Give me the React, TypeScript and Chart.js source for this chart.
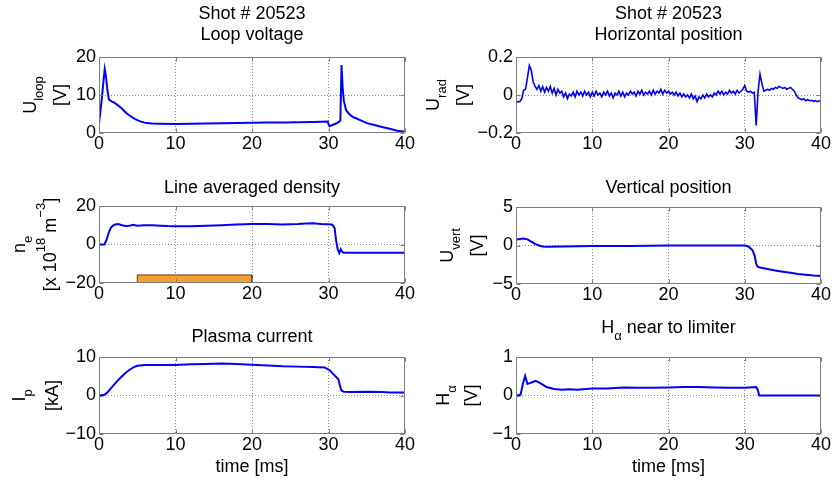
import React, { useEffect, useRef } from 'react';
import { Chart, registerables } from 'chart.js';

Chart.register(...registerables);

// ---------------- data ----------------
const timeTicks = [0, 10, 20, 30, 40];
const shotLabel = 'Shot # 20523';

const loopTime = [0, 0.15, 0.35, 0.6, 0.75, 0.9, 1.1, 1.3, 1.6, 2.0, 2.4, 2.8, 3.2, 3.6, 4.0, 4.5, 5.0, 5.5, 6.2, 7, 8, 10, 12, 14, 16, 18, 20, 22, 24, 26, 28, 29.9, 30.0, 30.15, 30.5, 31.0, 31.4, 31.55, 31.7, 31.85, 32.0, 32.3, 32.7, 33.2, 34, 35, 36, 37, 38, 39, 40];
const loopVoltage = [2.5, 5, 8.7, 14, 16.8, 15, 11.3, 8.8, 8.4, 8.0, 7.4, 6.8, 6.0, 5.2, 4.6, 3.9, 3.4, 3.0, 2.6, 2.5, 2.45, 2.4, 2.45, 2.5, 2.55, 2.6, 2.7, 2.75, 2.75, 2.8, 2.9, 3.0, 2.4, 1.8, 2.1, 2.5, 3.0, 3.3, 17.9, 12, 8.5, 6, 5, 4.2, 3.5, 2.6, 2.1, 1.6, 1.1, 0.6, 0.3];

const radTime = [
  0, 0.25, 0.5, 0.75, 1, 1.25, 1.5, 1.75, 2, 2.25, 2.5, 2.75, 3, 3.25, 3.5, 3.75, 4, 4.25, 4.5, 4.75,
  5, 5.25, 5.5, 5.75, 6, 6.25, 6.5, 6.75, 7, 7.25, 7.5, 7.75, 8, 8.25, 8.5, 8.75, 9, 9.25, 9.5, 9.75,
  10, 10.25, 10.5, 10.75, 11, 11.25, 11.5, 11.75, 12, 12.25, 12.5, 12.75, 13, 13.25, 13.5, 13.75, 14, 14.25, 14.5, 14.75,
  15, 15.25, 15.5, 15.75, 16, 16.25, 16.5, 16.75, 17, 17.25, 17.5, 17.75, 18, 18.25, 18.5, 18.75, 19, 19.25, 19.5, 19.75,
  20, 20.25, 20.5, 20.75, 21, 21.25, 21.5, 21.75, 22, 22.25, 22.5, 22.75, 23, 23.25, 23.5, 23.75, 24, 24.25, 24.5, 24.75,
  25, 25.25, 25.5, 25.75, 26, 26.25, 26.5, 26.75, 27, 27.25, 27.5, 27.75, 28, 28.25, 28.5, 28.75, 29, 29.25, 29.5, 29.75,
  30, 30.25, 30.5, 30.75, 31, 31.25, 31.5, 31.75, 32, 32.25, 32.5, 32.75, 33, 33.25, 33.5, 33.75, 34, 34.25, 34.5, 34.75,
  35, 35.25, 35.5, 35.75, 36, 36.25, 36.5, 36.75, 37, 37.25, 37.5, 37.75, 38, 38.25, 38.5, 38.75, 39, 39.25, 39.5, 39.75,
  40,
];
const radPosition = [
  -0.035, -0.036, -0.034, -0.02, 0.025, 0.03, 0.09, 0.155, 0.13, 0.07, 0.045, 0.03, 0.05, 0.02, 0.045, 0.015, 0.04, 0.02, 0.045, 0.01,
  0.035, 0.0, 0.03, 0.01, 0.02, -0.01, 0.01, -0.02, 0.005, -0.005, 0.015, -0.01, 0.02, 0.0, 0.015, -0.005, 0.02, 0.0, 0.015, -0.01,
  0.015, -0.005, 0.02, 0.0, 0.01, -0.01, 0.015, 0.0, 0.02, -0.005, 0.01, -0.015, 0.01, 0.0, 0.02, -0.005, 0.015, -0.01, 0.01, 0.0,
  0.02, 0.005, 0.015, -0.005, 0.02, 0.005, 0.025, 0.0, 0.015, 0.005, 0.02, 0.0, 0.025, 0.005, 0.02, 0.01, 0.03, 0.005, 0.025, 0.01,
  0.02, 0.005, 0.015, 0.0, 0.015, -0.005, 0.01, -0.01, 0.005, -0.01, 0.0, -0.015, 0.005, -0.02, -0.005, -0.035, -0.01, -0.02, 0.0, -0.015,
  0.005, -0.01, 0.0, -0.01, 0.01, 0.0, 0.02, 0.005, 0.02, 0.0, 0.015, 0.005, 0.025, 0.01, 0.02, 0.005, 0.025, 0.01, 0.02, 0.03,
  0.05, 0.02, 0.015, 0.02, 0.01, 0.015, -0.16, 0.02, 0.11, 0.06, 0.02, 0.025, 0.03, 0.025, 0.035, 0.03, 0.04, 0.035, 0.045, 0.04,
  0.035, 0.04, 0.03, 0.035, 0.04, 0.03, 0.02, 0.0, -0.015, -0.02, -0.025, -0.02, -0.03, -0.025, -0.03, -0.028, -0.033, -0.03, -0.035, -0.032,
  -0.03,
];

const densityTime = [0, 0.7, 1.0, 1.3, 1.6, 2.0, 2.5, 3.0, 3.5, 4.0, 4.5, 5, 6, 7, 8, 9, 10, 12, 14, 16, 18, 20, 22, 24, 26, 27, 28, 29, 30, 30.5, 30.8, 31.0, 31.2, 31.4, 31.6, 31.8, 32.0, 32.5, 34, 36, 38, 40];
const densityValue = [0, 0, 2.5, 6.5, 9.0, 10.3, 10.6, 10.0, 9.6, 9.8, 10.2, 9.8, 10.0, 10.0, 9.8, 9.6, 9.5, 9.5, 9.7, 10.0, 10.4, 10.7, 10.6, 10.4, 10.6, 10.9, 11.0, 10.6, 10.5, 10.3, 8.5, 2, -2.5, -4.5, -2.5, -3.8, -4.3, -4.3, -4.3, -4.3, -4.3, -4.3];

// highlighted time window in the density panel
const windowStart = 5;
const windowEnd = 20;
const windowLow = -20;
const windowHigh = -15.8;

const vertTime = [0, 0.5, 1.0, 1.5, 2.0, 2.5, 3.0, 3.5, 4, 6, 8, 10, 15, 20, 25, 29, 30, 30.5, 31.0, 31.3, 31.5, 31.7, 32.0, 33, 34, 35, 36, 37, 38, 39, 40];
const vertPosition = [0.75, 0.85, 0.9, 0.8, 0.5, 0.2, 0.0, -0.12, -0.15, -0.12, -0.1, -0.08, -0.05, 0.0, 0.0, 0.0, 0.0, -0.15, -0.6, -1.3, -2.4, -2.75, -2.85, -3.05, -3.25, -3.4, -3.55, -3.7, -3.8, -3.9, -3.95];

const currentTime = [0, 0.7, 1.0, 1.5, 2.0, 2.5, 3.0, 3.5, 4.0, 4.5, 5.0, 6, 8, 10, 12, 14, 16, 18, 20, 22, 24, 26, 28, 29.5, 30.2, 30.6, 31.0, 31.3, 31.5, 31.7, 32.0, 33, 35, 37, 38, 40];
const plasmaCurrent = [0, 0.2, 0.6, 1.7, 2.9, 4.0, 5.0, 5.9, 6.7, 7.3, 7.7, 7.9, 7.9, 7.9, 8.1, 8.2, 8.3, 8.2, 8.0, 7.8, 7.6, 7.5, 7.4, 7.3, 6.5, 5.6, 4.8, 4.2, 2.5, 1.3, 1.0, 0.9, 0.95, 0.9, 0.8, 0.75];

const alphaTime = [0, 0.6, 0.9, 1.2, 1.5, 1.8, 2.2, 2.6, 3.0, 3.5, 4.0, 5.0, 6, 7, 8, 10, 12, 14, 16, 18, 20, 22, 24, 26, 28, 30, 31.5, 31.7, 31.9, 33, 35, 37, 40];
const alphaSignal = [0, 0.02, 0.3, 0.51, 0.3, 0.32, 0.35, 0.38, 0.34, 0.28, 0.22, 0.17, 0.15, 0.16, 0.15, 0.18, 0.18, 0.21, 0.2, 0.2, 0.21, 0.22, 0.22, 0.21, 0.2, 0.2, 0.22, 0.15, 0.0, 0.0, 0.0, 0.0, 0.0];

const loopTicks = [0, 10, 20];
const radTicks = [-0.2, 0, 0.2];
const densityTicks = [-20, 0, 20];
const vertTicks = [-5, 0, 5];
const currentTicks = [-10, 0, 10];
const alphaTicks = [-1, 0, 1];

// ---------------- rendering helpers ----------------
type Seg = { t: string; s?: 'sub' | 'sup' };
type Box = { left: number; top: number; right: number; bottom: number };
type PanelDef = {
  time: number[];
  values: number[];
  yTicks: number[];
  title: Seg[][];
  titleBaselines: number[];
  yLabel: Seg[][];
  yLabelBaselines: number[];
  box: Box;
  xTitle?: boolean;
  window?: boolean;
  lineWidth?: number;
};

const W = 834;
const H = 482;
const FONT_FAMILY = '"Liberation Sans", Arial, Helvetica, sans-serif';
const MAIN_PX = 18;
const SMALL_PX = 13;
const SUB_SHIFT = 7;
const SUP_SHIFT = -11;
const Y_AXIS_W = 45;
const X_AXIS_H = 24;
const FRAME = '#7f7f7f';
const GRID = '#8a8a8a';

function setFont(ctx: CanvasRenderingContext2D, small: boolean) {
  ctx.font = `${small ? SMALL_PX : MAIN_PX}px ${FONT_FAMILY}`;
}
function richWidth(ctx: CanvasRenderingContext2D, segs: Seg[]) {
  let w = 0;
  for (const s of segs) {
    setFont(ctx, !!s.s);
    w += ctx.measureText(s.t).width;
  }
  return w;
}
function drawRich(ctx: CanvasRenderingContext2D, segs: Seg[], x: number, y: number, rotated: boolean) {
  ctx.save();
  ctx.translate(x, y);
  if (rotated) ctx.rotate(-Math.PI / 2);
  ctx.textBaseline = 'alphabetic';
  ctx.textAlign = 'left';
  ctx.fillStyle = '#000';
  let cx = -richWidth(ctx, segs) / 2;
  for (const s of segs) {
    setFont(ctx, !!s.s);
    const dy = s.s === 'sub' ? SUB_SHIFT : s.s === 'sup' ? SUP_SHIFT : 0;
    ctx.fillText(s.t, cx, dy);
    cx += ctx.measureText(s.t).width;
  }
  ctx.restore();
}

const fmt = (v: number) => (v < 0 ? '\u2212' + String(Math.abs(v)) : String(v));

const panels: PanelDef[] = [
  {
    time: loopTime, values: loopVoltage, yTicks: loopTicks,
    title: [[{ t: shotLabel }], [{ t: 'Loop voltage' }]], titleBaselines: [19, 40],
    yLabel: [[{ t: 'U' }, { t: 'loop', s: 'sub' }], [{ t: '[V]' }]], yLabelBaselines: [36, 66],
    box: { left: 99, top: 57, right: 405, bottom: 133 },
  },
  {
    time: radTime, values: radPosition, yTicks: radTicks, lineWidth: 1.6,
    title: [[{ t: shotLabel }], [{ t: 'Horizontal position' }]], titleBaselines: [19, 40],
    yLabel: [[{ t: 'U' }, { t: 'rad', s: 'sub' }], [{ t: '[V]' }]], yLabelBaselines: [439, 469],
    box: { left: 516, top: 57, right: 821, bottom: 133 },
  },
  {
    time: densityTime, values: densityValue, yTicks: densityTicks, window: true,
    title: [[{ t: 'Line averaged density' }]], titleBaselines: [193],
    yLabel: [
      [{ t: 'n' }, { t: 'e', s: 'sub' }],
      [{ t: '[x 10' }, { t: '18', s: 'sup' }, { t: ' m' }, { t: '\u22123', s: 'sup' }, { t: ']' }],
    ],
    yLabelBaselines: [25, 56],
    box: { left: 99, top: 206, right: 405, bottom: 283 },
  },
  {
    time: vertTime, values: vertPosition, yTicks: vertTicks,
    title: [[{ t: 'Vertical position' }]], titleBaselines: [193],
    yLabel: [[{ t: 'U' }, { t: 'vert', s: 'sub' }], [{ t: '[V]' }]], yLabelBaselines: [453, 483],
    box: { left: 516, top: 207, right: 821, bottom: 284 },
  },
  {
    time: currentTime, values: plasmaCurrent, yTicks: currentTicks, xTitle: true,
    title: [[{ t: 'Plasma current' }]], titleBaselines: [342],
    yLabel: [[{ t: 'I' }, { t: 'p', s: 'sub' }], [{ t: '[kA]' }]], yLabelBaselines: [25, 58],
    box: { left: 99, top: 357, right: 405, bottom: 434 },
  },
  {
    time: alphaTime, values: alphaSignal, yTicks: alphaTicks, xTitle: true,
    title: [[{ t: 'H' }, { t: '\u03b1', s: 'sub' }, { t: ' near to limiter' }]], titleBaselines: [333],
    yLabel: [[{ t: 'H' }, { t: '\u03b1', s: 'sub' }], [{ t: '[V]' }]], yLabelBaselines: [449, 477],
    box: { left: 516, top: 357, right: 821, bottom: 434 },
  },
];

function buildConfig(p: PanelDef): any {
  const yMin = p.yTicks[0];
  const yMax = p.yTicks[p.yTicks.length - 1];
  const xMin = timeTicks[0];
  const xMax = timeTicks[timeTicks.length - 1];
  const tickFont = { family: FONT_FAMILY, size: MAIN_PX };

  const datasets: any[] = [];
  if (p.window) {
    datasets.push({
      data: [
        { x: windowStart, y: windowLow },
        { x: windowStart, y: windowHigh },
        { x: windowEnd, y: windowHigh },
        { x: windowEnd, y: windowLow },
      ],
      borderColor: '#5c4020',
      borderWidth: 1,
      backgroundColor: '#F89E2E',
      fill: { value: windowLow },
      pointRadius: 0,
      tension: 0,
    });
  }
  datasets.push({
    data: p.time.map((t, i) => ({ x: t, y: p.values[i] })),
    borderColor: '#0000ff',
    borderWidth: p.lineWidth ?? 2,
    pointRadius: 0,
    tension: 0,
    fill: false,
  });

  const textPlugin = {
    id: 'matlabText',
    afterDraw(chart: any) {
      const ctx: CanvasRenderingContext2D = chart.ctx;
      const a = chart.chartArea;
      const cx = (a.left + a.right) / 2;
      const cy = (a.top + a.bottom) / 2;
      p.title.forEach((line, i) => drawRich(ctx, line, cx, p.titleBaselines[i], false));
      p.yLabel.forEach((line, i) => drawRich(ctx, line, p.yLabelBaselines[i], cy, true));
      if (p.xTitle) drawRich(ctx, [{ t: 'time [ms]' }], cx, a.bottom + 38, false);
    },
  };

  const framePlugin = {
    id: 'matlabFrame',
    afterDatasetsDraw(chart: any) {
      const ctx: CanvasRenderingContext2D = chart.ctx;
      const a = chart.chartArea;
      const sx = chart.scales.x;
      const sy = chart.scales.y;
      const L = Math.round(a.left) + 0.5;
      const R = Math.round(a.right) - 0.5;
      const T = Math.round(a.top) + 0.5;
      const B = Math.round(a.bottom) - 0.5;
      ctx.save();
      ctx.strokeStyle = FRAME;
      ctx.lineWidth = 1;
      ctx.strokeRect(L, T, R - L, B - T);
      ctx.beginPath();
      for (const v of timeTicks) {
        const x = Math.round(sx.getPixelForValue(v)) + 0.5;
        ctx.moveTo(x, B); ctx.lineTo(x, B - 4);
        ctx.moveTo(x, T); ctx.lineTo(x, T + 4);
      }
      for (const v of p.yTicks) {
        const y = Math.round(sy.getPixelForValue(v)) + 0.5;
        ctx.moveTo(L, y); ctx.lineTo(L + 4, y);
        ctx.moveTo(R, y); ctx.lineTo(R - 4, y);
      }
      ctx.stroke();
      ctx.restore();
    },
  };

  return {
    type: 'line',
    data: { datasets },
    options: {
      responsive: false,
      animation: false,
      events: [],
      layout: {
        padding: {
          left: p.box.left - Y_AXIS_W,
          top: p.box.top,
          right: W - p.box.right,
          bottom: H - p.box.bottom - X_AXIS_H,
        },
      },
      plugins: { legend: { display: false }, tooltip: { enabled: false }, title: { display: false } },
      scales: {
        x: {
          type: 'linear',
          min: xMin,
          max: xMax,
          afterBuildTicks: (s: any) => { s.ticks = timeTicks.map((v) => ({ value: v })); },
          afterFit: (s: any) => { s.height = X_AXIS_H; },
          grid: {
            drawTicks: false,
            lineWidth: 1,
            color: (c: any) => (c.tick && c.tick.value > xMin && c.tick.value < xMax ? GRID : 'rgba(0,0,0,0)'),
          },
          border: { display: false, dash: [1, 2] },
          ticks: { font: tickFont, color: '#000', padding: 0, maxRotation: 0, autoSkip: false, callback: (v: number) => fmt(v) },
        },
        y: {
          type: 'linear',
          min: yMin,
          max: yMax,
          afterBuildTicks: (s: any) => { s.ticks = p.yTicks.map((v) => ({ value: v })); },
          afterFit: (s: any) => { s.width = Y_AXIS_W; },
          grid: {
            drawTicks: false,
            lineWidth: 1,
            color: (c: any) => (c.tick && c.tick.value > yMin && c.tick.value < yMax ? GRID : 'rgba(0,0,0,0)'),
          },
          border: { display: false, dash: [1, 2] },
          ticks: { font: tickFont, color: '#000', padding: 3, autoSkip: false, callback: (v: number) => fmt(v) },
        },
      },
    },
    plugins: [framePlugin, textPlugin],
  };
}

function PanelCanvas({ panel }: { panel: PanelDef }) {
  const ref = useRef<HTMLCanvasElement>(null);
  useEffect(() => {
    const chart = new Chart(ref.current as HTMLCanvasElement, buildConfig(panel));
    return () => chart.destroy();
  }, [panel]);
  return <canvas ref={ref} width={W} height={H} style={{ position: 'absolute', left: 0, top: 0 }} />;
}

export default function App() {
  return (
    <div style={{ position: 'fixed', left: 0, top: 0, width: W, height: H, background: '#fff', overflow: 'hidden' }}>
      {panels.map((p, i) => (
        <PanelCanvas key={i} panel={p} />
      ))}
    </div>
  );
}
